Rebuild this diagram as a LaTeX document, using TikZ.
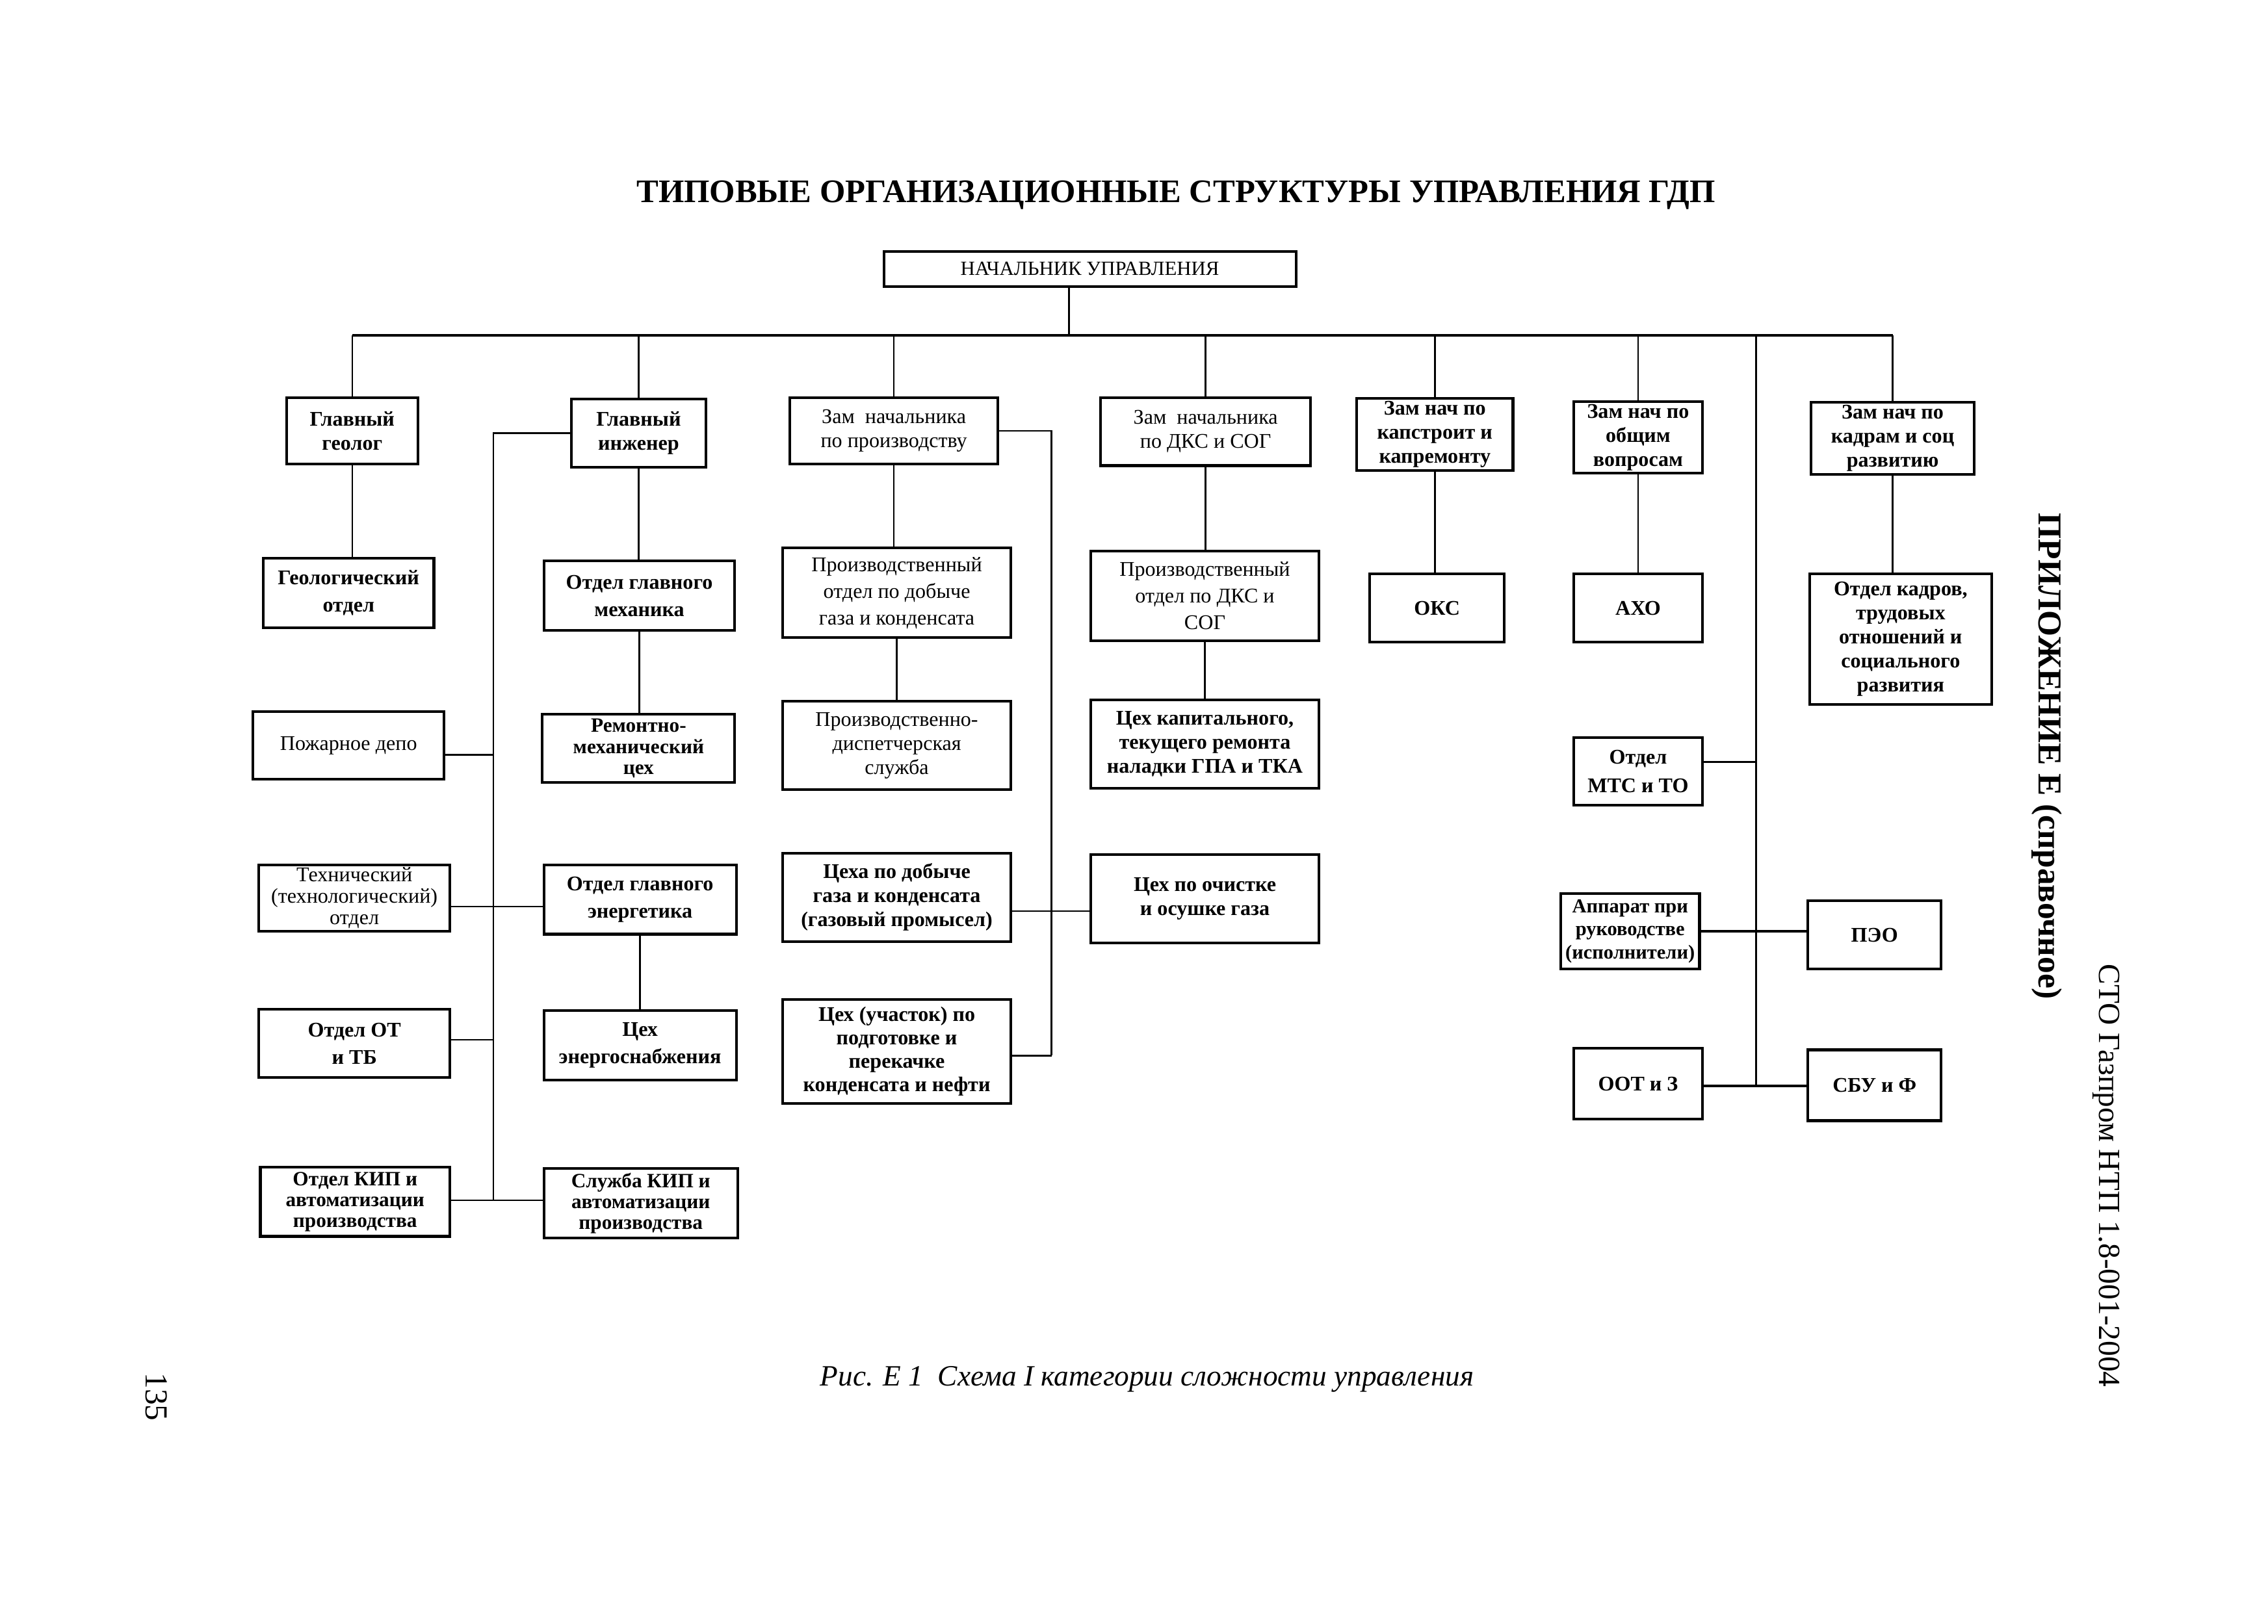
\documentclass[tikz,border=0pt]{standalone}
\usepackage{fontspec}
\setmainfont{Liberation Serif}
\newcommand\ob[7][]{%
  \node[ob,minimum width={(#4-#2)*0.019cm},minimum height={(#5-#3)*0.019cm},#1] (#6) at ({(#2+#4)/2},{(#3+#5)/2}) {#7};}
\tikzset{
  ob/.style={draw, line width=1pt, align=center, inner sep=1pt, font=\fontsize{7.8}{9}\selectfont},
  fb/.style={font=\fontsize{7.8}{9}\selectfont\bfseries},
  fbw/.style={font=\fontsize{7.8}{10.2}\selectfont\bfseries},
  fnw/.style={font=\fontsize{7.8}{10}\selectfont},
  fbt/.style={font=\fontsize{7.6}{7.8}\selectfont\bfseries},
  ln/.style={line width=0.6pt},
  bus/.style={line width=1pt},
}
\begin{document}
\begin{tikzpicture}[x=0.019cm,y=-0.019cm]
\useasboundingbox (0,0) rectangle (1568,1123);
% title and labels
\node[font=\fontsize{12.3}{15}\selectfont\bfseries] (title) at (813,135) {ТИПОВЫЕ ОРГАНИЗАЦИОННЫЕ СТРУКТУРЫ УПРАВЛЕНИЯ ГДП};
\node[rotate=-90, font=\fontsize{12.5}{15}\selectfont\bfseries] (app) at (1415,523) {ПРИЛОЖЕНИЕ Е (справочное)};
\node[rotate=-90, font=\fontsize{11.5}{14}\selectfont] (sto) at (1456,813) {СТО Газпром НТП 1.8-001-2004};
\node[rotate=-90, font=\fontsize{12}{14}\selectfont] (pg) at (108,966) {135};
\node[font=\fontsize{11}{14}\selectfont\itshape] (cap) at (793,954) {Рис. Е 1\ \ Схема I категории сложности управления};
% level 0 and 1
\ob[font=\fontsize{7.5}{9}\selectfont]{611}{174}{896}{198}{nach}{НАЧАЛЬНИК УПРАВЛЕНИЯ}
\ob[fb]{198}{275}{289}{321}{geolog}{Главный\\геолог}
\ob[fb]{395}{276}{488}{323}{inzh}{Главный\\инженер}
\ob{546}{275}{690}{321}{zproizv}{Зам\ \ начальника\\по производству}
\ob{761}{275}{906}{322}{zdks}{Зам\ \ начальника\\по ДКС и СОГ}
\ob[fb]{938}{276}{1046}{325}{zkap}{Зам нач по\\капстроит и\\капремонту}
\ob[fb]{1088}{279}{1177}{326}{zob}{Зам нач по\\общим\\вопросам}
\ob[fb]{1252}{278}{1365}{328}{zkadr}{Зам нач по\\кадрам и соц\\развитию}
% level 2
\ob[fbw]{182}{386}{300}{434}{geoot}{Геологический\\отдел}
\ob[fbw]{376}{388}{508}{436}{meh}{Отдел главного\\механика}
\ob[fnw]{541}{379}{699}{441}{pot}{Производственный\\отдел по добыче\\газа и конденсата}
\ob[fnw]{754}{381}{912}{443}{pdks}{Производственный\\отдел по ДКС и\\СОГ}
\ob[fb]{947}{397}{1040}{444}{oks}{ОКС}
\ob[fb]{1088}{397}{1177}{444}{aho}{АХО}
\ob[fb]{1251}{397}{1377}{487}{okadr}{Отдел кадров,\\трудовых\\отношений и\\социального\\развития}
% level 3
\ob{175}{492}{307}{539}{pozh}{Пожарное депо}
\ob[fbt]{375}{494}{508}{541}{remont}{Ремонтно-\\механический\\цех}
\ob{541}{485}{699}{546}{pds}{Производственно-\\диспетчерская\\служба}
\ob[fb]{754}{484}{912}{545}{ckap}{Цех капитального,\\текущего ремонта\\наладки ГПА и ТКА}
\ob[font=\fontsize{7.8}{10.7}\selectfont\bfseries]{1088}{510}{1177}{557}{mts}{Отдел\\МТС и ТО}
% level 4
\ob[font=\fontsize{7.8}{8}\selectfont]{179}{598}{311}{644}{tekh}{Технический\\(технологический)\\отдел}
\ob[fbw]{376}{598}{509}{646}{energ}{Отдел главного\\энергетика}
\ob[fb]{541}{590}{699}{651}{ceha}{Цеха по добыче\\газа и конденсата\\(газовый промысел)}
\ob[fb]{754}{591}{912}{652}{ochist}{Цех по очистке\\и осушке газа}
\ob[font=\fontsize{7.4}{8.6}\selectfont\bfseries]{1079}{618}{1175}{670}{apparat}{Аппарат при\\руководстве\\(исполнители)}
\ob[fb]{1250}{623}{1342}{670}{peo}{ПЭО}
% level 5
\ob[fbw]{179}{698}{311}{745}{ot}{Отдел ОТ\\и ТБ}
\ob[fbw]{376}{699}{509}{747}{energsn}{Цех\\энергоснабжения}
\ob[font=\fontsize{7.8}{8.8}\selectfont\bfseries]{541}{691}{699}{763}{uchastok}{Цех (участок) по\\подготовке и\\перекачке\\конденсата и нефти}
\ob[fb]{1088}{725}{1177}{774}{oot}{ООТ и З}
\ob[fb]{1250}{726}{1342}{775}{sbu}{СБУ и Ф}
% level 6
\ob[fbt]{180}{807}{311}{855}{kip}{Отдел КИП и\\автоматизации\\производства}
\ob[fbt]{376}{808}{510}{856}{skip}{Служба КИП и\\автоматизации\\производства}
% bus coordinates
\coordinate (busL) at (243,232);
\coordinate (topdrop) at (739,0);
\coordinate (v7) at (1214,751);
\coordinate (lbus) at (341,830);
\coordinate (rbus) at (727,730);
% connectors
\draw[bus] (geolog.north |- busL) -- (zkadr.north |- busL);
\draw[ln] (nach.south -| topdrop) -- (topdrop |- busL);
\draw[ln] (geolog.north |- busL) -- (geolog.north);
\draw[ln] (inzh.north |- busL) -- (inzh.north);
\draw[ln] (zproizv.north |- busL) -- (zproizv.north);
\draw[ln] (zdks.north |- busL) -- (zdks.north);
\draw[ln] (zkap.north |- busL) -- (zkap.north);
\draw[ln] (zob.north |- busL) -- (zob.north);
\draw[ln] (zkadr.north |- busL) -- (zkadr.north);
\draw[ln] (v7 |- busL) -- (v7);
% verticals
\draw[ln] (geolog.south) -- (geolog.south |- geoot.north);
\draw[ln] (inzh.south) -- (inzh.south |- meh.north);
\draw[ln] (meh.south) -- (meh.south |- remont.north);
\draw[ln] (energ.south) -- (energ.south |- energsn.north);
\draw[ln] (zproizv.south) -- (zproizv.south |- pot.north);
\draw[ln] (pot.south) -- (pot.south |- pds.north);
\draw[ln] (zdks.south) -- (zdks.south |- pdks.north);
\draw[ln] (pdks.south) -- (pdks.south |- ckap.north);
\draw[ln] (zkap.south) -- (zkap.south |- oks.north);
\draw[ln] (zob.south) -- (zob.south |- aho.north);
\draw[ln] (zkadr.south) -- (zkadr.south |- okadr.north);
% left bus
\draw[ln] (inzh.west) -| (lbus);
\draw[ln] (pozh.east |- 0,522) -- (lbus |- 0,522);
\draw[ln] (tekh.east |- 0,627) -- (energ.west |- 0,627);
\draw[ln] (ot.east |- 0,719) -- (lbus |- 0,719);
\draw[ln] (kip.east |- lbus) -- (skip.west |- lbus);
% right bus of production
\draw[ln] (zproizv.east) -| (rbus);
\draw[ln] (ceha.east |- 0,630) -- (ochist.west |- 0,630);
\draw[ln] (uchastok.east |- rbus) -- (rbus);
% column 7
\draw[ln] (mts.east |- 0,527) -- (v7 |- 0,527);
\draw[bus] (apparat.east |- 0,644) -- (peo.west |- 0,644);
\draw[bus] (oot.east |- v7) -- (sbu.west |- v7);
\end{tikzpicture}
\end{document}
